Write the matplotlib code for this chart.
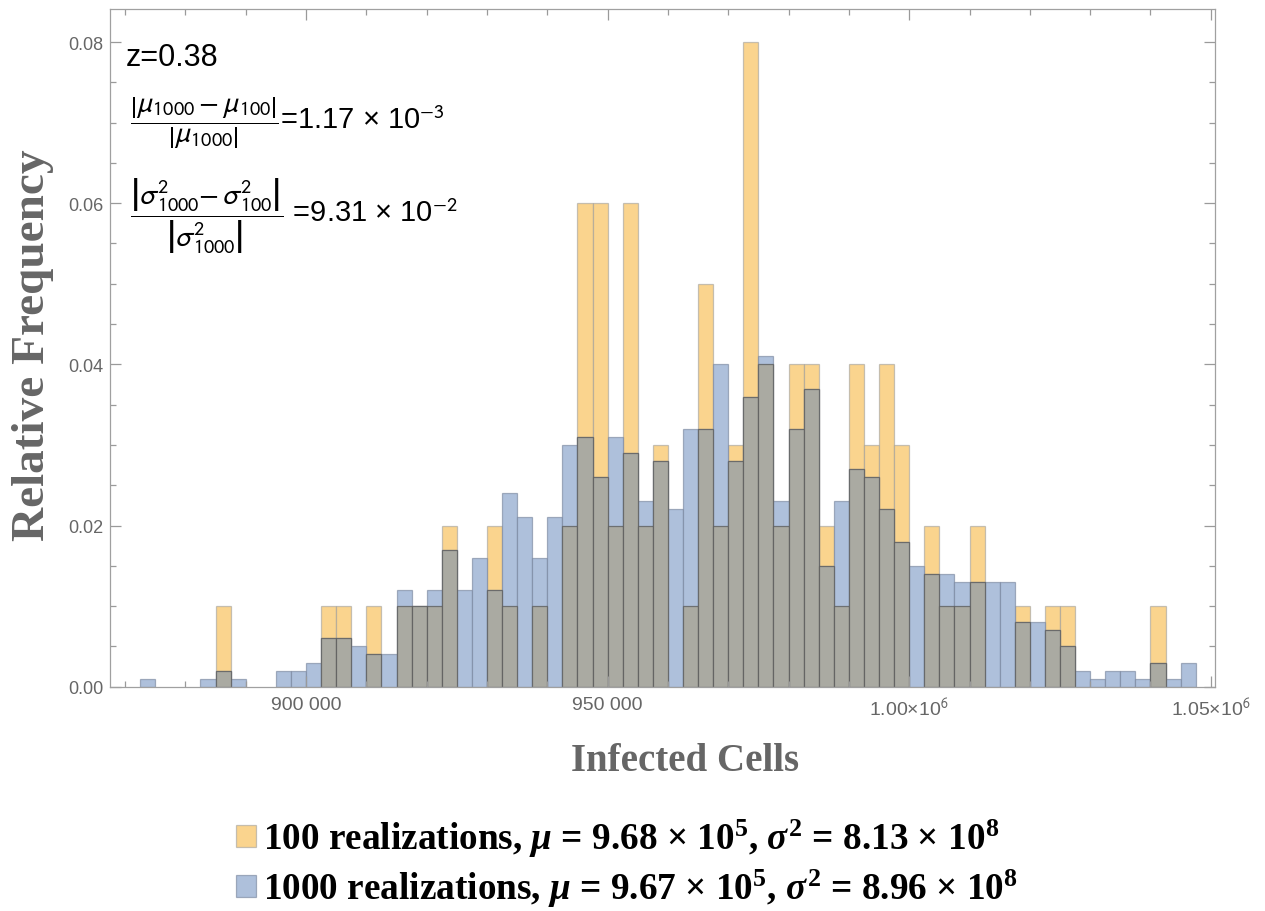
import numpy as np
import matplotlib
matplotlib.use('Agg')
import matplotlib.pyplot as plt
from matplotlib.ticker import FixedLocator, MultipleLocator, FuncFormatter

plt.rcParams['mathtext.fontset'] = 'custom'
plt.rcParams['mathtext.rm'] = 'Liberation Serif:bold'
plt.rcParams['mathtext.it'] = 'Liberation Serif:italic:bold'
plt.rcParams['mathtext.bf'] = 'Liberation Serif:bold'

# histogram bins (left edges), width 2500
bin_width = 2500
bin_left = np.arange(872500, 1045000 + 1, bin_width)

# relative frequencies, 100 realizations (multiples of 0.01)
freq_100 = np.array([
    0, 0, 0, 0, 0, 1, 0, 0, 0, 0, 0, 0, 1, 1, 0, 1, 0, 1, 1, 1,
    2, 0, 0, 2, 1, 0, 1, 0, 2, 6, 6, 2, 6, 2, 3, 0, 1, 5, 2, 3,
    8, 4, 2, 4, 4, 2, 1, 4, 3, 4, 3, 0, 2, 1, 1, 2, 0, 0, 1, 0,
    1, 1, 0, 0, 0, 0, 0, 1, 0, 0]) / 100

# relative frequencies, 1000 realizations (multiples of 0.001)
freq_1000 = np.array([
    1, 0, 0, 0, 1, 2, 1, 0, 0, 2, 2, 3, 6, 6, 5, 4, 4, 12, 10, 12,
    17, 12, 16, 12, 24, 21, 16, 21, 30, 31, 26, 31, 29, 23, 28, 22, 32, 32, 40, 28,
    36, 41, 23, 32, 37, 15, 23, 27, 26, 22, 18, 15, 14, 14, 13, 13, 13, 13, 8, 8,
    7, 5, 2, 1, 2, 2, 1, 3, 1, 3]) / 1000

labels = [r'100 realizations, $\mu$ = 9.68 × 10$^5$, $\sigma^2$ = 8.13 × 10$^8$',
          r'1000 realizations, $\mu$ = 9.67 × 10$^5$, $\sigma^2$ = 8.96 × 10$^8$']

x_major = [900000, 950000, 1000000, 1050000]
x_major_labels = ['900 000', '950 000', r'1.00×10$^6$', r'1.05×10$^6$']

c_orange = '#fad48e'
c_blue = '#aec0db'
c_gray = '#aaaaa2'

fig = plt.figure(figsize=(12.65, 9.12), dpi=100)
ax = fig.add_axes([110/1265, 1-687.7/912, 1105/1265, 677.7/912])

m = freq_100 > 0
b100 = ax.bar(bin_left[m], freq_100[m], width=bin_width, align='edge',
              color=c_orange, edgecolor=(0.6, 0.6, 0.6, 0.55), linewidth=0.9)
m = freq_1000 > 0
b1000 = ax.bar(bin_left[m], freq_1000[m], width=bin_width, align='edge',
               color=c_blue, edgecolor=(0.45, 0.5, 0.6, 0.6), linewidth=0.9)
both = np.minimum(freq_100, freq_1000)
m = both > 0
ax.bar(bin_left[m], both[m], width=bin_width, align='edge',
       color=c_gray, edgecolor=(0.35, 0.35, 0.35, 0.75), linewidth=0.9)

ax.set_xlim(867500, 1050700)
ax.set_ylim(0, 0.0841)

ax.xaxis.set_major_locator(FixedLocator(x_major))
ax.set_xticklabels(x_major_labels)
ax.xaxis.set_minor_locator(MultipleLocator(10000))
ax.yaxis.set_major_locator(MultipleLocator(0.02))
ax.yaxis.set_minor_locator(MultipleLocator(0.005))
ax.yaxis.set_major_formatter(FuncFormatter(lambda v, p: f'{v:.2f}'))

ax.tick_params(which='both', direction='in', top=True, right=True,
               color='#9a9a9a', width=0.9)
ax.tick_params(which='major', length=8, labelcolor='#666666')
ax.tick_params(which='minor', length=4)
ax.tick_params(axis='x', pad=7, labelsize=14)
ax.tick_params(axis='y', pad=5, labelsize=13)
for lab in ax.get_xticklabels() + ax.get_yticklabels():
    lab.set_family('Liberation Sans')
    lab.set_math_fontfamily('stixsans')
for s in ax.spines.values():
    s.set_color('#a0a0a0')
    s.set_linewidth(0.9)

fig.text(33/1265, 1-345/912, 'Relative Frequency', rotation=90, ha='center', va='center',
         family='Liberation Serif', weight='bold', size=34, color='#666666')
fig.text(685/1265, 1-762/912, 'Infected Cells', ha='center', va='center',
         family='Liberation Serif', weight='bold', size=28, color='#666666')

fig.text(126/1265, 1-58/912, 'z=0.38', ha='left', va='center',
         family='Liberation Sans', size=22, color='black')
fig.text(130/1265, 1-123/912,
         r'$\dfrac{\left|\mu_{1000}-\mu_{100}\right|}{\left|\mu_{1000}\right|}$=1.17 × 10$^{-3}$',
         ha='left', va='center', family='Liberation Sans', size=21, color='black',
         math_fontfamily='stixsans')
fig.text(130/1265, 1-216/912,
         r'$\dfrac{\left|\sigma^2_{1000}{-}\,\sigma^2_{100}\right|}{\left|\sigma^2_{1000}\right|}$ =9.31 × 10$^{-2}$',
         ha='left', va='center', family='Liberation Sans', size=21, color='black',
         math_fontfamily='stixsans')

fig.legend([b100, b1000], labels, loc='upper left',
           bbox_to_anchor=(236/1265, 1-818/912), frameon=False,
           prop={'family': 'Liberation Serif', 'weight': 'bold', 'size': 26.8},
           handlelength=0.55, handleheight=0.55, handletextpad=0.18,
           labelspacing=0.22, borderpad=0, borderaxespad=0)

fig.savefig('out.png', dpi=100)
